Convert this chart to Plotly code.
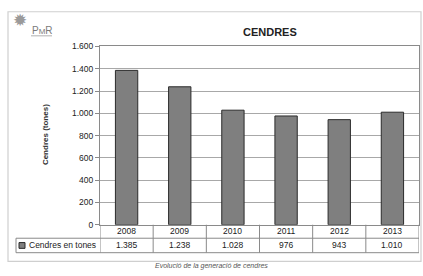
import plotly.graph_objects as go

years = ["2008", "2009", "2010", "2011", "2012", "2013"]
tones = [1385, 1238, 1028, 976, 943, 1010]
series_name = "Cendres en tones"
title = "CENDRES"
y_title = "Cendres (tones)"
caption = "Evolució de la generació de cendres"
y_ticks = [0, 200, 400, 600, 800, 1000, 1200, 1400, 1600]

W, H = 423, 276
FONT = "Liberation Sans, Arial, sans-serif"

def px(x):
    return x / W

def py(y):
    return 1 - y / H

def fmt(v):
    return f"{v:,}".replace(",", ".")

def note(x, y, text, size=8.5, color="#222", xanchor="center", xref="paper", **kw):
    return dict(x=x, y=y, xref=xref, yref="paper", text=text, showarrow=False,
                xanchor=xanchor, yanchor="middle",
                font=dict(size=size, color=color, family=kw.pop("family", FONT)), **kw)

xs = list(range(len(years)))

fig = go.Figure()
fig.add_trace(go.Bar(
    x=xs, y=tones, width=0.42,
    marker=dict(color="#7f7f7f", line=dict(color="#2b2b2b", width=1)),
    name=series_name, showlegend=False,
))

shapes = []
annotations = []

# outer frame
shapes.append(dict(type="rect", xref="paper", yref="paper",
                   x0=px(8), x1=px(421), y0=py(266), y1=py(7),
                   line=dict(color="#cfcfcf", width=1.2), layer="below"))

# data table
row_top, row_mid, row_bot = 228, 242, 257
tbl_color = "#8a8a8a"
for yy in (row_mid, row_bot):
    shapes.append(dict(type="line", xref="paper", yref="paper",
                       x0=px(16), x1=px(419), y0=py(yy), y1=py(yy),
                       line=dict(color=tbl_color, width=1)))
shapes.append(dict(type="line", xref="paper", yref="paper",
                   x0=px(16), x1=px(16), y0=py(row_mid), y1=py(row_bot),
                   line=dict(color=tbl_color, width=1)))
for i in range(len(years) + 1):
    shapes.append(dict(type="line", xref="x", yref="paper",
                       x0=i - 0.5, x1=i - 0.5, y0=py(row_top), y1=py(row_bot),
                       line=dict(color=tbl_color, width=1)))
for i, (yr, v) in enumerate(zip(years, tones)):
    annotations.append(note(i, py((row_top + row_mid) / 2), yr, xref="x"))
    annotations.append(note(i, py((row_mid + row_bot) / 2), fmt(v), xref="x"))

# legend key in table
shapes.append(dict(type="rect", xref="paper", yref="paper",
                   x0=px(19), x1=px(25), y0=py(252.5), y1=py(246.5),
                   fillcolor="#7f7f7f", line=dict(color="#2b2b2b", width=1)))
annotations.append(note(px(27), py(249.5), series_name, xanchor="left"))

annotations.append(note(px(270), py(28), f"<b>{title}</b>", size=11))
annotations.append(note(px(45), py(135), f"<b>{y_title}</b>", size=8, color="#333", textangle=-90))
annotations.append(note(px(211), py(271), f"<i>{caption}</i>", size=7, color="#555"))
# logo
annotations.append(note(px(20), py(16), "✹", size=17, color="#9a9a9a", family="DejaVu Sans"))
annotations.append(note(px(42), py(26), "P<span style='font-size:8px'>M</span>R", size=10, color="#7a7a7a"))
shapes.append(dict(type="line", xref="paper", yref="paper",
                   x0=px(31), x1=px(52), y0=py(32), y1=py(32),
                   line=dict(color="#b0b0b0", width=1)))

fig.update_layout(
    width=W, height=H,
    margin=dict(l=0, r=0, t=0, b=0),
    paper_bgcolor="white", plot_bgcolor="white",
    separators=",.",
    font=dict(family=FONT, size=8.5, color="#222"),
    shapes=shapes, annotations=annotations,
    xaxis=dict(domain=[px(100), px(419)], range=[-0.5, len(years) - 0.5],
               showticklabels=False, showgrid=False, zeroline=False,
               showline=True, linecolor="#8a8a8a", linewidth=1, mirror=True,
               fixedrange=True),
    yaxis=dict(domain=[py(228), py(43)], range=[0, 1600],
               tickvals=y_ticks, tickformat=",d",
               ticks="outside", ticklen=4, tickcolor="#8a8a8a",
               showgrid=True, gridcolor="#a8a8a8", gridwidth=1,
               zeroline=False, showline=True, linecolor="#8a8a8a", linewidth=1,
               mirror=True, tickfont=dict(size=8.5, color="#222"),
               fixedrange=True),
)

fig.write_html("out.html", config={"displayModeBar": False},
               post_script="document.body.style.margin='0';document.body.style.padding='0';")
